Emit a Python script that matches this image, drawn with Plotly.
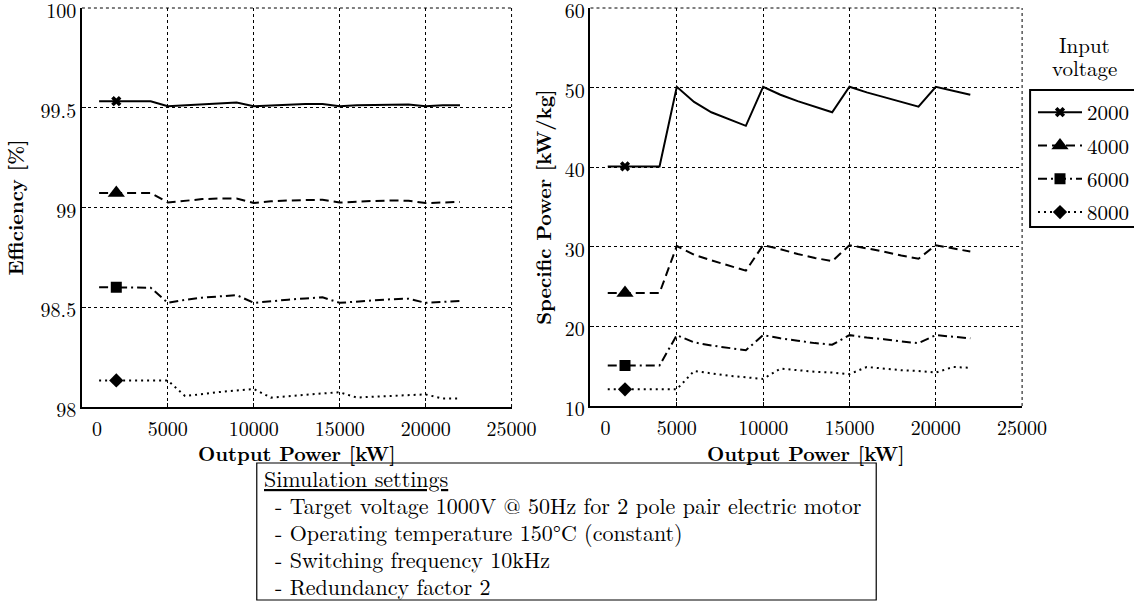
import plotly.graph_objects as go

W, H = 1134, 614

# ---------------- data ----------------
power_kw = [1000, 2000, 3000, 4000, 5000, 6000, 7000, 8000, 9000, 10000, 11000,
            12000, 13000, 14000, 15000, 16000, 17000, 18000, 19000, 20000, 21000, 22000]

input_voltages = ["2000", "4000", "6000", "8000"]

eff_2000 = [99.533, 99.533, 99.533, 99.533, 99.508, 99.513, 99.518, 99.521, 99.526, 99.508, 99.512,
            99.517, 99.519, 99.519, 99.508, 99.513, 99.515, 99.516, 99.516, 99.507, 99.512, 99.512]
eff_4000 = [99.073, 99.073, 99.073, 99.073, 99.025, 99.035, 99.042, 99.045, 99.045, 99.023, 99.031,
            99.035, 99.037, 99.039, 99.025, 99.030, 99.033, 99.035, 99.034, 99.022, 99.025, 99.028]
eff_6000 = [98.600, 98.600, 98.600, 98.598, 98.522, 98.537, 98.548, 98.555, 98.561, 98.522, 98.531,
            98.538, 98.544, 98.550, 98.522, 98.530, 98.535, 98.540, 98.543, 98.522, 98.527, 98.532]
eff_8000 = [98.133, 98.133, 98.133, 98.133, 98.133, 98.055, 98.066, 98.075, 98.083, 98.090, 98.047,
            98.055, 98.062, 98.068, 98.074, 98.047, 98.052, 98.056, 98.060, 98.063, 98.042, 98.042]

sp_2000 = [40.1, 40.1, 40.1, 40.1, 50.1, 48.2, 46.9, 46.0, 45.2, 50.1, 49.1,
           48.3, 47.6, 46.9, 50.1, 49.4, 48.8, 48.2, 47.6, 50.1, 49.6, 49.1]
sp_4000 = [24.2, 24.2, 24.2, 24.2, 30.1, 29.0, 28.3, 27.6, 27.0, 30.2, 29.7,
           29.1, 28.6, 28.2, 30.2, 29.8, 29.4, 28.9, 28.5, 30.2, 29.8, 29.4]
sp_6000 = [15.1, 15.1, 15.1, 15.1, 18.9, 18.0, 17.6, 17.3, 17.0, 18.9, 18.5,
           18.2, 17.9, 17.7, 18.9, 18.6, 18.4, 18.1, 17.9, 18.9, 18.7, 18.5]
sp_8000 = [12.1, 12.1, 12.1, 12.1, 12.1, 14.4, 14.1, 13.8, 13.6, 13.4, 14.7,
           14.5, 14.3, 14.2, 14.0, 14.9, 14.7, 14.5, 14.4, 14.2, 14.9, 14.8]

x_tickvals = [0, 5000, 10000, 15000, 20000, 25000]
x_ticktext = ["\u2007\u2007\u20070", "5000", "10000", "15000", "20000", "25000"]
eff_tickvals = [98, 98.5, 99, 99.5, 100]
sp_tickvals = [10, 20, 30, 40, 50, 60]

x_title = "<b>Output Power [kW]</b>"
settings_lines = [
    "<u>Simulation settings</u>",
    "\u00a0- Target voltage 1000V @ 50Hz for 2 pole pair electric motor",
    "\u00a0- Operating temperature 150°C (constant)",
    "\u00a0- Switching frequency 10kHz",
    "\u00a0- Redundancy factor 2",
]
legend_title_lines = ["Input", "voltage"]

marker_index = 1  # the single marker drawn on each curve

# ---------------- styles ----------------
efficiency = [eff_2000, eff_4000, eff_6000, eff_8000]
specific = [sp_2000, sp_4000, sp_6000, sp_8000]
dashes = ["solid", "9px,5px", "9px,4px,2px,4px", "2px,4px"]
symbols = ["x", "triangle-up", "square", "diamond"]
msizes = [9, 15, 11, 11]

SERIF = "Latin Modern Roman"
fig = go.Figure()

for i, v in enumerate(input_voltages):
    for yvals, xa, ya in [(efficiency[i], "x", "y"), (specific[i], "x2", "y2")]:
        fig.add_trace(go.Scatter(
            x=power_kw, y=yvals, xaxis=xa, yaxis=ya, mode="lines",
            line=dict(color="black", width=2, dash=dashes[i]),
            showlegend=False, legendgroup=v, hoverinfo="skip"))
        fig.add_trace(go.Scatter(
            x=[power_kw[marker_index]], y=[yvals[marker_index]], xaxis=xa, yaxis=ya,
            mode="lines+markers", name=v, legendgroup=v,
            line=dict(color="black", width=2, dash=dashes[i]),
            marker=dict(symbol=symbols[i], size=msizes[i], color="black",
                        line=dict(width=0)),
            showlegend=(xa == "x")))

axis_common = dict(
    showline=True, linecolor="black", linewidth=1.5, mirror=False,
    showgrid=True, gridcolor="black", griddash="dot", gridwidth=1,
    ticks="inside", ticklen=4, tickcolor="black", tickwidth=1,
    zeroline=False, tickfont=dict(family=SERIF, size=20, color="black"),
    automargin=False, ticklabeloverflow="allow",
)
title_font = dict(family=SERIF, size=20, color="black")

xdom1 = [82 / W, 512 / W]
xdom2 = [591 / W, 1023 / W]
ydom1 = [1 - 407 / H, 1 - 8 / H]
ydom2 = [1 - 406 / H, 1 - 8 / H]

fig.update_layout(
    width=W, height=H,
    margin=dict(l=0, r=0, t=0, b=0),
    paper_bgcolor="white", plot_bgcolor="white",
    xaxis=dict(domain=xdom1, range=[0, 25000], tickmode="array",
               tickvals=x_tickvals, ticktext=x_ticktext, anchor="y",
               ticklabelstandoff=3, **axis_common),
    yaxis=dict(domain=ydom1, range=[98, 100], tickmode="array",
               tickvals=eff_tickvals, anchor="x", ticklabelshift=3,
               title=dict(text="<b>Efficiency [%]</b>", standoff=12, font=title_font),
               **axis_common),
    xaxis2=dict(domain=xdom2, range=[0, 25000], tickmode="array",
                tickvals=x_tickvals, ticktext=x_ticktext, anchor="y2",
                ticklabelstandoff=3, **axis_common),
    yaxis2=dict(domain=ydom2, range=[10, 60], tickmode="array",
                tickvals=sp_tickvals, anchor="x2", ticklabelshift=3,
                title=dict(text="<b>Specific Power [kW/kg]</b>", standoff=8, font=title_font),
                **axis_common),
    legend=dict(x=1034 / W, y=1 - 92 / H, xanchor="left", yanchor="top",
                borderwidth=0, bgcolor="rgba(0,0,0,0)",
                font=dict(family=SERIF, size=21, color="black"),
                traceorder="grouped", tracegroupgap=3, itemwidth=44),
    showlegend=True,
)

# x-axis titles placed below the tick labels
for xd in (xdom1, xdom2):
    fig.add_annotation(
        xref="paper", yref="paper", x=(xd[0] + xd[1]) / 2, y=1 - 452 / H,
        xanchor="center", yanchor="middle", showarrow=False,
        text=x_title, font=title_font)

# dotted top / right frame lines (grid lines at the range ends)
for xd, yd in [(xdom1, ydom1), (xdom2, ydom2)]:
    fig.add_shape(type="line", xref="paper", yref="paper",
                  x0=xd[0], x1=xd[1], y0=yd[1], y1=yd[1],
                  line=dict(color="black", width=1, dash="dot"))
    fig.add_shape(type="line", xref="paper", yref="paper",
                  x0=xd[1], x1=xd[1], y0=yd[0], y1=yd[1],
                  line=dict(color="black", width=1, dash="dot"))

# legend frame (runs past the right edge as in the reference)
fig.add_shape(type="rect", xref="paper", yref="paper",
              x0=1031 / W, x1=1.01, y0=1 - 227 / H, y1=1 - 90 / H,
              line=dict(color="black", width=2), fillcolor="rgba(0,0,0,0)")

# legend title above the frame
for k, t in enumerate(legend_title_lines):
    fig.add_annotation(
        xref="paper", yref="paper", x=1085 / W, y=1 - (44 + 23 * k) / H,
        xanchor="center", yanchor="middle", showarrow=False,
        text=t, font=dict(family=SERIF, size=21, color="black"))

# simulation settings box
fig.add_shape(type="rect", xref="paper", yref="paper",
              x0=257 / W, x1=877 / W, y0=1 - 600 / H, y1=1 - 463 / H,
              line=dict(color="black", width=1.2), fillcolor="white", layer="below")
for k, t in enumerate(settings_lines):
    fig.add_annotation(
        xref="paper", yref="paper", x=262 / W, y=1 - (477 + 27 * k) / H,
        xanchor="left", yanchor="middle", showarrow=False, align="left",
        text=t, font=dict(family=SERIF, size=22, color="black"))

fig.write_html("out.html")
